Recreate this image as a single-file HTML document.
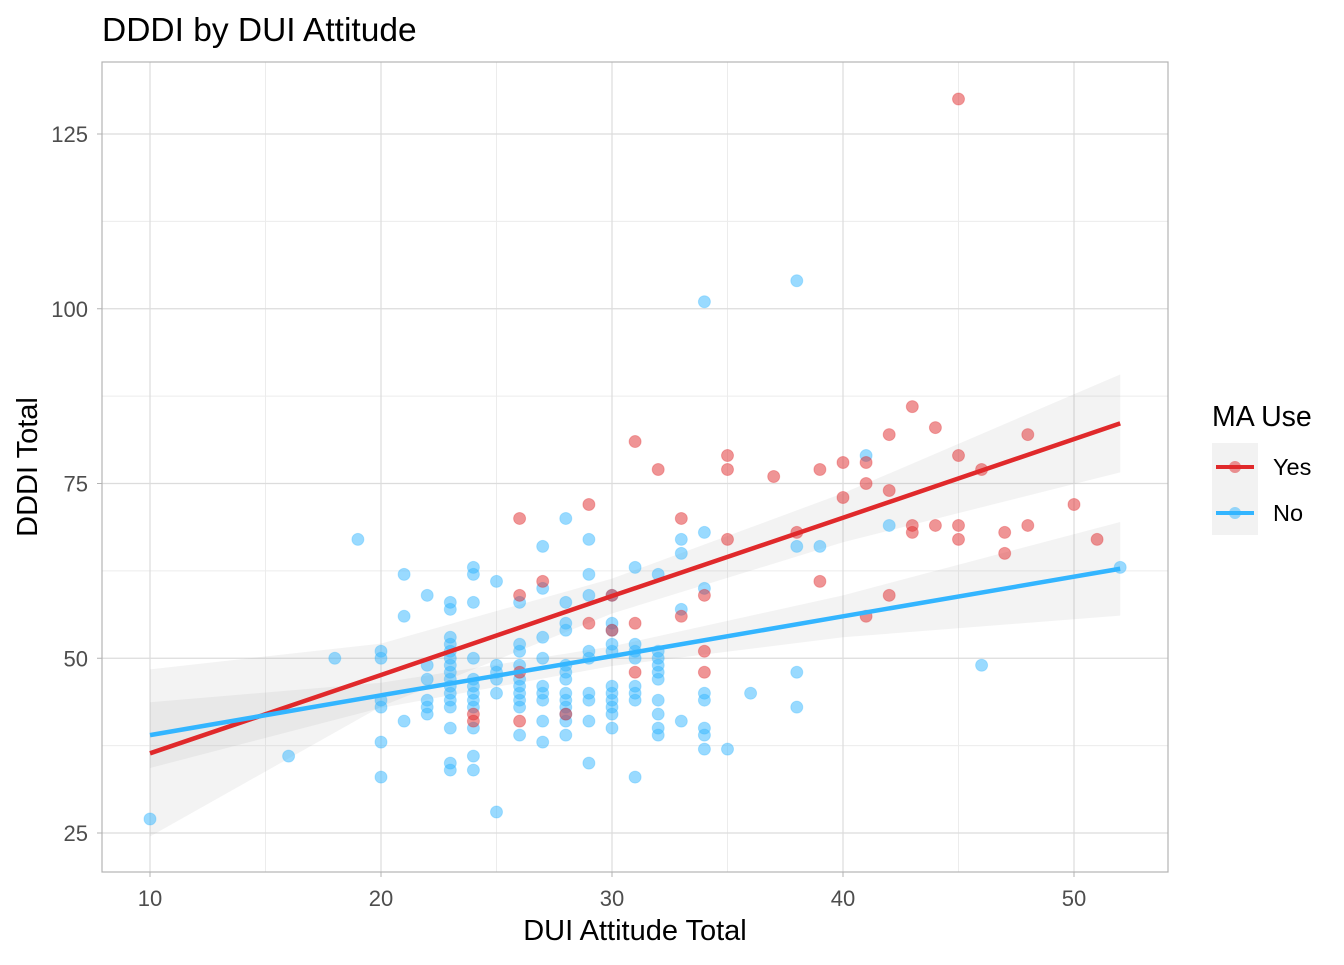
<!DOCTYPE html>
<html><head><meta charset="utf-8"><style>
body{margin:0;background:#fff;font-family:"Liberation Sans",Arial,sans-serif;}
</style></head><body>
<svg id="chart" width="1344" height="960" xmlns="http://www.w3.org/2000/svg" font-family="Liberation Sans, Arial, sans-serif">
<text x="102" y="41" font-size="33.5" fill="#000">DDDI by DUI Attitude</text>
<g id="panel"></g>
<text x="635" y="940" font-size="29" text-anchor="middle">DUI Attitude Total</text>
<text x="37" y="467" font-size="29" text-anchor="middle" transform="rotate(-90 37 467)">DDDI Total</text>
<g>
<text x="1212" y="426" font-size="28.5">MA Use</text>
<rect x="1212" y="443" width="46" height="92" fill="#f2f2f2"/>
<g>
<line x1="1216" y1="467" x2="1254" y2="467" stroke="#e0292b" stroke-width="4"/>
<circle cx="1235" cy="467" r="6" fill="#e0292b" fill-opacity="0.5"/>
<text x="1273" y="475" font-size="23.5">Yes</text></g>
<g>
<line x1="1216" y1="513" x2="1254" y2="513" stroke="#33b5ff" stroke-width="4"/>
<circle cx="1235" cy="513" r="6" fill="#33b5ff" fill-opacity="0.5"/>
<text x="1273" y="521" font-size="23.5">No</text></g>
</g>
</svg>
<script>
const xTicks=[10,20,30,40,50];
const yTicks=[25,50,75,100,125];
const yesX=[45,42,43,44,42,48,31,35,45,41,40,32,35,39,46,37,41,40,50,29,26,33,43,44,45,48,43,47,38,35,45,51,47,27,39,26,34,42,30,33,41,29,31,30,34,26,31,34,24,28,24,26];
const yesY=[130,74,86,83,82,82,81,79,79,78,78,77,77,77,77,76,75,73,72,72,70,70,69,69,69,69,68,68,68,67,67,67,65,61,61,59,59,59,59,56,56,55,55,54,51,48,48,48,42,42,41,41];
const noX=[10,16,18,19,20,20,20,20,20,20,21,21,21,22,22,22,22,22,22,
23,23,23,23,23,23,23,23,23,23,23,23,23,23,23,23,
24,24,24,24,24,24,24,24,24,24,24,24,
25,25,25,25,25,25,
26,26,26,26,26,26,26,26,26,26,
27,27,27,27,27,27,27,27,27,
28,28,28,28,28,28,28,28,28,28,28,28,28,
29,29,29,29,29,29,29,29,29,
30,30,30,30,30,30,30,30,30,30,30,
31,31,31,31,31,31,31,31,
32,32,32,32,32,32,32,32,32,32,
33,33,33,33,34,34,34,34,34,34,34,34,35,36,38,38,38,38,39,41,42,46,52];
const noY=[27,36,50,67,51,50,44,43,38,33,62,56,41,59,49,47,44,43,42,
58,57,53,52,51,50,49,48,47,46,45,44,43,40,35,34,
63,62,58,50,47,46,45,44,43,40,36,34,
61,49,48,47,45,28,
58,52,51,49,47,46,45,44,43,39,
66,60,53,50,46,45,44,41,38,
70,58,55,54,49,48,47,45,44,43,42,41,39,
67,62,59,51,50,45,44,41,35,
59,55,54,52,51,46,45,44,43,42,40,
63,52,51,50,46,45,44,33,
62,51,50,49,48,47,44,42,40,39,
67,65,57,41,101,68,60,45,44,40,39,37,37,45,104,66,48,43,66,79,69,49,63];
const bandX=[10,20,30,40,52];
const yesFit=[36.4,47.6,58.9,70.1,83.6];
const yesLo=[24.5,43.1,56.4,66.6,76.6];
const yesHi=[48.4,52.1,61.4,73.6,90.6];
const noFit=[39,44.7,50.3,56,62.8];
const noLo=[34.3,42.9,48.9,53,56.1];
const noHi=[43.7,46.5,51.7,59,69.5];

const X0=102,X1=1168,Y0=62,Y1=872;
const sx=v=>150+(v-10)*23.1;
const sy=v=>134+(125-v)*6.99;
const NS="http://www.w3.org/2000/svg";
const panel=document.getElementById('panel');
function mk(t,a,p){const e=document.createElementNS(NS,t);for(const k in a)e.setAttribute(k,a[k]);(p||panel).appendChild(e);return e;}
for(let i=0;i<xTicks.length+1;i++){const v=xTicks[0]-5+i*10;if(sx(v)>X0&&sx(v)<X1){const l=mk('line',{x1:sx(v),x2:sx(v),y1:Y0,y2:Y1,stroke:'#ececec','stroke-width':1});}}
for(let i=0;i<yTicks.length+1;i++){const v=yTicks[0]-12.5+i*25;if(sy(v)>Y0&&sy(v)<Y1){const l=mk('line',{x1:X0,x2:X1,y1:sy(v),y2:sy(v),stroke:'#ececec','stroke-width':1});}}
xTicks.forEach(v=>{const l=mk('line',{x1:sx(v),x2:sx(v),y1:Y0,y2:Y1,stroke:'#dcdcdc','stroke-width':1.2});
const t=mk('text',{x:sx(v),y:906,'font-size':22,fill:'#4d4d4d','text-anchor':'middle'});t.textContent=v;
mk('line',{x1:sx(v),x2:sx(v),y1:Y1,y2:Y1+5,stroke:'#b3b3b3'});});
yTicks.forEach(v=>{const l=mk('line',{x1:X0,x2:X1,y1:sy(v),y2:sy(v),stroke:'#dcdcdc','stroke-width':1.2});
const t=mk('text',{x:88,y:sy(v)+8,'font-size':22,fill:'#4d4d4d','text-anchor':'end'});t.textContent=v;
mk('line',{x1:X0-5,x2:X0,y1:sy(v),y2:sy(v),stroke:'#b3b3b3'});});
function band(lo,hi,name){let d='';bandX.forEach((x,i)=>{d+=(i?'L':'M')+sx(x)+','+sy(hi[i]);});for(let i=bandX.length-1;i>=0;i--)d+='L'+sx(bandX[i])+','+sy(lo[i]);d+='Z';
const p=mk('path',{d:d,fill:'#999','fill-opacity':0.12});}
band(yesLo,yesHi,'yes-confidence-band');band(noLo,noHi,'no-confidence-band');
function pts(xs,ys,col,name){xs.forEach((x,i)=>{const c=mk('circle',{cx:sx(x),cy:sy(ys[i]),r:6,fill:col,'fill-opacity':0.5,stroke:col,'stroke-opacity':0.3});});}
pts(noX,noY,'#33b5ff','no-point');pts(yesX,yesY,'#e0292b','yes-point');
function line(fit,col,name){const p=mk('polyline',{points:bandX.map((x,i)=>sx(x)+','+sy(fit[i])).join(' '),fill:'none',stroke:col,'stroke-width':4.5});}
line(yesFit,'#e0292b','yes-trend-line');line(noFit,'#33b5ff','no-trend-line');
const b=mk('rect',{x:X0,y:Y0,width:X1-X0,height:Y1-Y0,fill:'none',stroke:'#b3b3b3','stroke-width':1.2});
</script>
</body></html>
